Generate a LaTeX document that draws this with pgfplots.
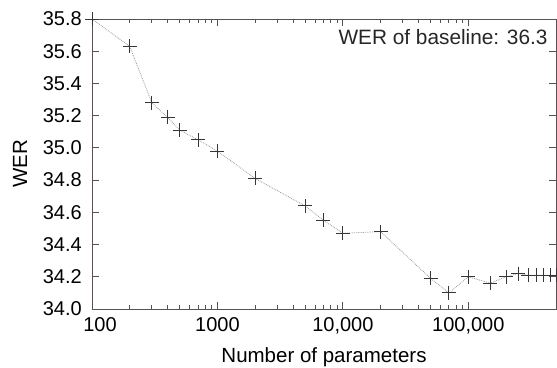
\documentclass[border=0pt]{standalone}
\usepackage{pgfplots}
\pgfplotsset{compat=1.18}
\usepackage{fontspec}
\setmainfont{Liberation Sans}
\definecolor{axiscol}{HTML}{5A5252}
\definecolor{markcol}{HTML}{3A3535}
\definecolor{linecol}{HTML}{9A9A9A}
\begin{document}
\fontsize{20}{24}\selectfont
\begin{tikzpicture}
\begin{axis}[
  xmode=log,
  width=464pt, height=290pt, scale only axis,
  xmin=100, xmax=500000,
  ymin=34, ymax=35.8,
  ytick={34,34.2,34.4,34.6,34.8,35,35.2,35.4,35.6,35.8},
  yticklabel style={inner sep=0pt, xshift=-10pt, /pgf/number format/fixed, /pgf/number format/precision=1, /pgf/number format/zerofill, /pgf/number format/assume math mode=true},
  xticklabel style={inner sep=0pt, yshift=-8pt},
  xtick={100,1000,10000,100000},
  xticklabels={\hspace{16pt}100,1000,{10,000},{100,000}},
  major tick length=7pt, minor tick length=4pt,
  axis line style={axiscol, line width=0.9pt},
  every tick/.style={axiscol, line width=0.8pt},
  tick align=inside,
  xlabel={Number of parameters},
  ylabel={WER},
  xlabel style={at={(axis description cs:0.5,-0.1655)}, anchor=center, font=\fontsize{20.5}{24}\selectfont},
  ylabel style={at={(axis description cs:-0.155,0.5)}, anchor=center, font=\fontsize{20.5}{24}\selectfont},
  clip marker paths=false,
  tick label style={font=\fontsize{20}{24}\selectfont},
]
\addplot[color=linecol, densely dotted, line width=0.8pt,
  mark=+, mark size=7pt, mark options={solid, markcol, line width=0.8pt}]
coordinates {
(100,35.80) (200,35.63) (300,35.28) (400,35.19) (500,35.11) (700,35.05)
(1000,34.98) (2000,34.81) (5000,34.64) (7000,34.55) (10000,34.47)
(20000,34.48) (50000,34.19) (70000,34.10) (100000,34.20) (150000,34.16)
(200000,34.20) (250000,34.22) (300000,34.21) (350000,34.21) (400000,34.21)
(450000,34.21) (500000,34.21)
};
\node[anchor=north east, inner sep=0pt, text=black!85, font=\fontsize{20.8}{24}\selectfont] at (rel axis cs:0.982,0.965) {WER of baseline: 36.3};
\end{axis}
\pgfresetboundingbox
\path ([xshift=-92pt,yshift=-59pt]current axis.south west) rectangle ([xshift=1pt,yshift=19pt]current axis.north east);
\end{tikzpicture}
\end{document}
